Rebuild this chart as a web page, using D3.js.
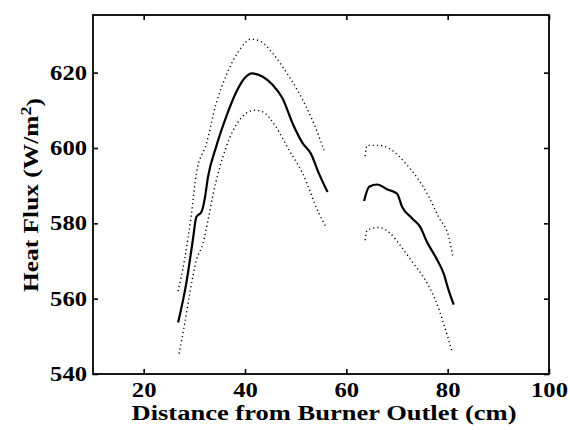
<!DOCTYPE html>
<html>
<head>
<meta charset="utf-8">
<script src="https://cdn.jsdelivr.net/npm/d3@7"></script>
<style>
  body { margin: 0; background: #fff; }
  text { font-family: "Liberation Serif", "Times New Roman", serif; font-weight: bold; }
</style>
</head>
<body>
<div id="chart"></div>
<script>
// section 1 (near burner)
var x1 = [26.8, 28.4, 29.7, 30.4, 31.4, 32.0, 32.7, 34.3, 36.3, 38.3, 39.9, 41.4, 43.5, 45.5, 47.4, 49.4, 51.4, 53.0, 54.6, 56.3];
var mean1 = [553.7, 564.0, 575.5, 581.7, 583.0, 586.1, 592.3, 600.3, 608.3, 614.9, 618.5, 619.8, 618.9, 616.7, 613.2, 606.5, 601.2, 598.5, 593.2, 588.3];
var upX1 = [26.8, 28.1, 29.4, 30.4, 32.4, 34.3, 36.3, 38.9, 41.2, 43.2, 45.5, 48.1, 50.7, 53.3, 55.6];
var up1 = [562.0, 570.6, 582.2, 593.2, 601.2, 611.8, 619.3, 626.0, 628.9, 628.2, 625.1, 620.2, 614.5, 607.4, 599.4];
var loX1 = [27.0, 28.1, 29.1, 30.4, 31.7, 32.7, 33.6, 36.3, 38.9, 41.9, 43.5, 46.1, 48.7, 51.4, 54.6, 56.0];
var lo1 = [545.4, 553.4, 561.4, 570.2, 574.6, 580.8, 587.0, 600.3, 607.4, 610.0, 609.6, 605.6, 599.4, 593.2, 582.6, 579.0];

// section 2 (far)
var x2 = [63.5, 64.5, 66.1, 68.1, 70.0, 71.0, 73.0, 74.6, 75.9, 77.6, 79.2, 80.2, 81.2];
var mean2 = [585.9, 589.7, 590.3, 589.0, 587.9, 584.4, 581.3, 579.0, 575.1, 571.1, 566.7, 562.2, 558.4];
var upX2 = [63.7, 64.1, 66.4, 69.0, 71.7, 74.3, 76.3, 78.2, 80.2, 81.0];
var up2 = [597.8, 600.7, 600.7, 599.4, 595.9, 591.5, 587.0, 581.7, 576.4, 571.5];
var loX2 = [63.7, 64.1, 66.4, 68.7, 70.6, 73.0, 75.6, 77.6, 79.2, 80.9];
var lo2 = [575.5, 578.2, 578.9, 577.3, 574.2, 569.8, 564.9, 559.6, 553.4, 545.8];

var xTicks = [20, 40, 60, 80, 100];
var yTicks = [540, 560, 580, 600, 620];

var W = 570, H = 430;
var margin = {top: 15, right: 21, bottom: 56, left: 93},
    width = W - margin.left - margin.right,
    height = H - margin.top - margin.bottom;

var svg = d3.select('#chart').append('svg')
    .attr('width', W)
    .attr('height', H)
  .append('g')
    .attr('transform', 'translate(' + margin.left + ',' + margin.top + ')');

var x = d3.scaleLinear().domain([10, 100]).range([0, width]);
var y = d3.scaleLinear().domain([540, 635.3]).range([height, 0]);

var line = d3.line()
    .x(function(d) { return x(d[0]); })
    .y(function(d) { return y(d[1]); })
    .curve(d3.curveMonotoneX);

function pairs(xs, ys) { return xs.map(function(v, i) { return [v, ys[i]]; }); }

// dotted bounds
[[upX1, up1], [loX1, lo1], [upX2, up2], [loX2, lo2]].forEach(function(s) {
  svg.append('path')
    .datum(pairs(s[0], s[1]))
    .attr('d', line)
    .attr('fill', 'none')
    .attr('stroke', '#000')
    .attr('stroke-width', 1.4)
    .attr('stroke-dasharray', '1.2,3');
});

// mean lines
[[x1, mean1], [x2, mean2]].forEach(function(s) {
  svg.append('path')
    .datum(pairs(s[0], s[1]))
    .attr('d', line)
    .attr('fill', 'none')
    .attr('stroke', '#000')
    .attr('stroke-width', 2.2);
});

// axes, ticks inward on all sides
var fs = '21px';
function styleLabels(g) {
  g.selectAll('text')
    .style('font-size', '20px')
    .attr('fill', '#000')
    .attr('lengthAdjust', 'spacingAndGlyphs')
    .attr('textLength', function(d) { return String(d).length * 12.3; });
}
svg.append('g')
    .attr('transform', 'translate(0,' + height + ')')
    .call(d3.axisBottom(x).tickValues(xTicks).tickSizeInner(-5).tickSizeOuter(0).tickPadding(9))
    .call(styleLabels);
svg.append('g')
    .call(d3.axisLeft(y).tickValues(yTicks).tickSizeInner(-5).tickSizeOuter(0).tickPadding(6))
    .call(styleLabels);
svg.append('g')
    .call(d3.axisTop(x).tickValues(xTicks).tickSizeInner(-5).tickSizeOuter(0).tickFormat(''));
svg.append('g')
    .attr('transform', 'translate(' + width + ',0)')
    .call(d3.axisRight(y).tickValues(yTicks).tickSizeInner(-5).tickSizeOuter(0).tickFormat(''));

svg.selectAll('.domain').remove();
svg.selectAll('.tick line').attr('stroke', '#000').attr('stroke-width', 1.6);

svg.append('rect')
    .attr('width', width)
    .attr('height', height)
    .attr('fill', 'none')
    .attr('stroke', '#000')
    .attr('stroke-width', 1.8);

// labels
svg.append('text')
    .attr('x', width / 2 + 3)
    .attr('y', height + 46)
    .attr('text-anchor', 'middle')
    .attr('textLength', 385)
    .attr('lengthAdjust', 'spacingAndGlyphs')
    .style('font-size', '20px')
    .text('Distance from Burner Outlet (cm)');

var yl = svg.append('text')
    .attr('transform', 'translate(' + (-55) + ',' + (195 - margin.top) + ') rotate(-90)')
    .attr('text-anchor', 'middle')
    .attr('textLength', 194)
    .attr('lengthAdjust', 'spacingAndGlyphs')
    .style('font-size', fs);
yl.append('tspan').text('Heat Flux (W/m');
yl.append('tspan').attr('dy', '-0.45em').style('font-size', '15px').text('2');
yl.append('tspan').attr('dy', '0.45em').text(')');
</script>
</body>
</html>
